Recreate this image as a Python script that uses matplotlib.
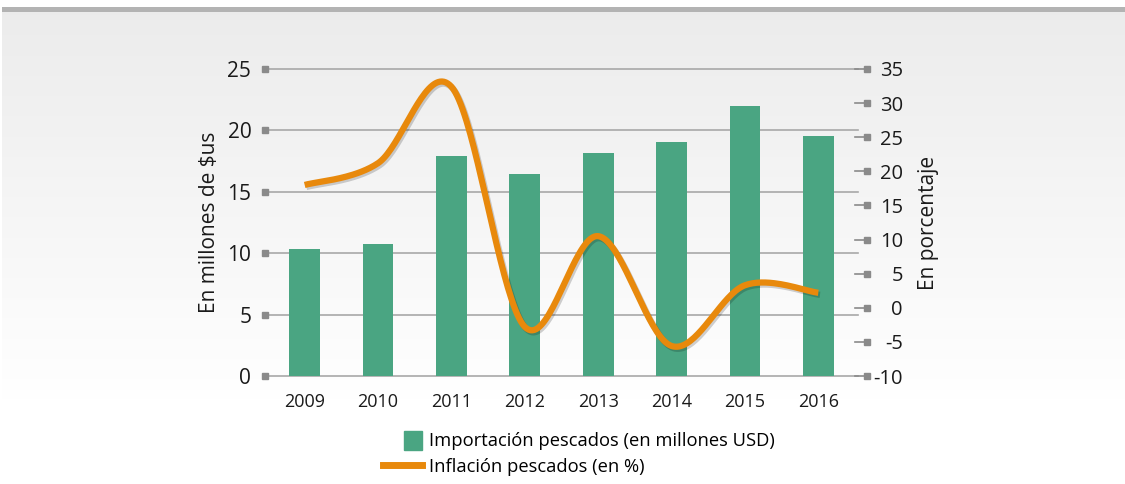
import numpy as np
import matplotlib
matplotlib.use("Agg")
import matplotlib.pyplot as plt
from matplotlib.patches import Rectangle
from matplotlib.lines import Line2D
from matplotlib.legend_handler import HandlerPatch
import matplotlib.patheffects as pe

plt.rcParams['font.family'] = ['Open Sans', 'DejaVu Sans']
plt.rcParams['axes.unicode_minus'] = False

# ---------------- data ----------------
years = ['2009', '2010', '2011', '2012', '2013', '2014', '2015', '2016']
importacion = [10.35, 10.75, 17.9, 16.45, 18.15, 19.05, 22.0, 19.55]
inflacion = [18.0, 21.2, 32.4, -2.8, 10.5, -5.6, 3.3, 2.2]
left_ticks = [0, 5, 10, 15, 20, 25]
right_ticks = [-10, -5, 0, 5, 10, 15, 20, 25, 30, 35]

GREEN = '#4aa582'
ORANGE = '#e8890c'
GRID = '#a8a8a8'
TICKC = '#8a8a8a'

W, H = 1125, 484
fig = plt.figure(figsize=(W / 100, H / 100), dpi=100)
fig.patch.set_facecolor('white')

# background gradient and top band
bg = fig.add_axes([0, 0, 1, 1], zorder=-10)
bg.set_xlim(0, W)
bg.set_ylim(H, 0)
bg.axis('off')
grad = np.linspace(0, 1, 256)[:, None]
cols = np.array([0.925, 0.925, 0.925])[None, None, :] * (1 - grad[..., None]) + np.ones(3)[None, None, :] * grad[..., None]
bg.imshow(cols, extent=(2, W, 400, 12), aspect='auto', interpolation='bilinear')
bg.add_patch(Rectangle((2, 7), W, 5, color='#b3b3b3', lw=0))

# main axes
ax = fig.add_axes([268 / W, 1 - 376 / H, (855 - 268) / W, (376 - 69) / H])
ax.patch.set_alpha(0)
x = np.arange(len(years))
ax.bar(x, importacion, width=0.42, color=GREEN, zorder=2,
       label='Importación pescados (en millones USD)')
ax.set_xlim(-0.5, len(years) - 0.5)
ax.set_ylim(0, 25)
ax.set_yticks(left_ticks)
ax.set_xticks(x)
ax.set_xticklabels(years)
ax.tick_params(axis='y', length=0, pad=12, labelsize=15, colors='#1a1a1a')
ax.tick_params(axis='x', length=0, pad=12, labelsize=13, colors='#1a1a1a')
for s in ax.spines.values():
    s.set_visible(False)
for t in left_ticks:
    ax.plot([-0.54, 7.54], [t, t], color=GRID, lw=1.2, zorder=1, clip_on=False)
    ax.plot([-0.54], [t], marker='s', ms=4, color=TICKC, clip_on=False, zorder=3)
ax.set_ylabel('En millones de $us', fontsize=15, labelpad=5, color='#1a1a1a')

# secondary axes
ax2 = ax.twinx()
ax2.set_ylim(-10, 35)
ax2.set_yticks(right_ticks)
for s in ax2.spines.values():
    s.set_visible(False)
ax2.tick_params(axis='y', length=0, pad=34.5, labelsize=14.5, colors='#1a1a1a')
for lab in ax2.get_yticklabels():
    lab.set_horizontalalignment('right')
for t in right_ticks:
    ax2.plot([7.5, 7.66], [t, t], color=TICKC, lw=1.2, clip_on=False, zorder=3)
    ax2.plot([7.66], [t], marker='s', ms=4, color=TICKC, clip_on=False, zorder=3)
ax2.set_ylabel('En porcentaje', fontsize=15, labelpad=11, color='#1a1a1a')

# smoothed line (Catmull-Rom through the data points)
px = x.astype(float)
py = np.array(inflacion, dtype=float)
P = np.column_stack([px, py])
Pext = np.vstack([P[0], P, P[-1]])
sx, sy = [], []
for i in range(1, len(Pext) - 2):
    p0, p1, p2, p3 = Pext[i - 1], Pext[i], Pext[i + 1], Pext[i + 2]
    c1 = p1 + (p2 - p0) / 6
    c2 = p2 - (p3 - p1) / 6
    t = np.linspace(0, 1, 40)[:, None]
    seg = (1 - t) ** 3 * p1 + 3 * (1 - t) ** 2 * t * c1 + 3 * (1 - t) * t ** 2 * c2 + t ** 3 * p2
    sx.extend(seg[:, 0])
    sy.extend(seg[:, 1])
ax2.plot(sx, sy, color=ORANGE, lw=4.5, solid_capstyle='butt', zorder=4,
         path_effects=[pe.SimpleLineShadow(offset=(1.2, -1.5), shadow_color='k', alpha=0.18),
                       pe.Normal()])


def square_patch(legend, orig_handle, xdescent, ydescent, width, height, fontsize):
    sq = 13.5
    return Rectangle((-xdescent + width - sq, -ydescent + (height - sq) / 2), sq, sq)


bar_proxy = Rectangle((0, 0), 1, 1, color=GREEN)
line_proxy = Line2D([], [], color=ORANGE, lw=5)
fig.legend([bar_proxy, line_proxy],
           ['Importación pescados (en millones USD)', 'Inflación pescados (en %)'],
           loc='upper left', bbox_to_anchor=(383 / W, 1 - 432 / H),
           frameon=False, fontsize=13.2, handlelength=2.15, handleheight=1.0,
           handletextpad=0.35, labelspacing=0.38, borderpad=0, borderaxespad=0,
           handler_map={Rectangle: HandlerPatch(patch_func=square_patch)})

fig.savefig('out.png', dpi=100)
